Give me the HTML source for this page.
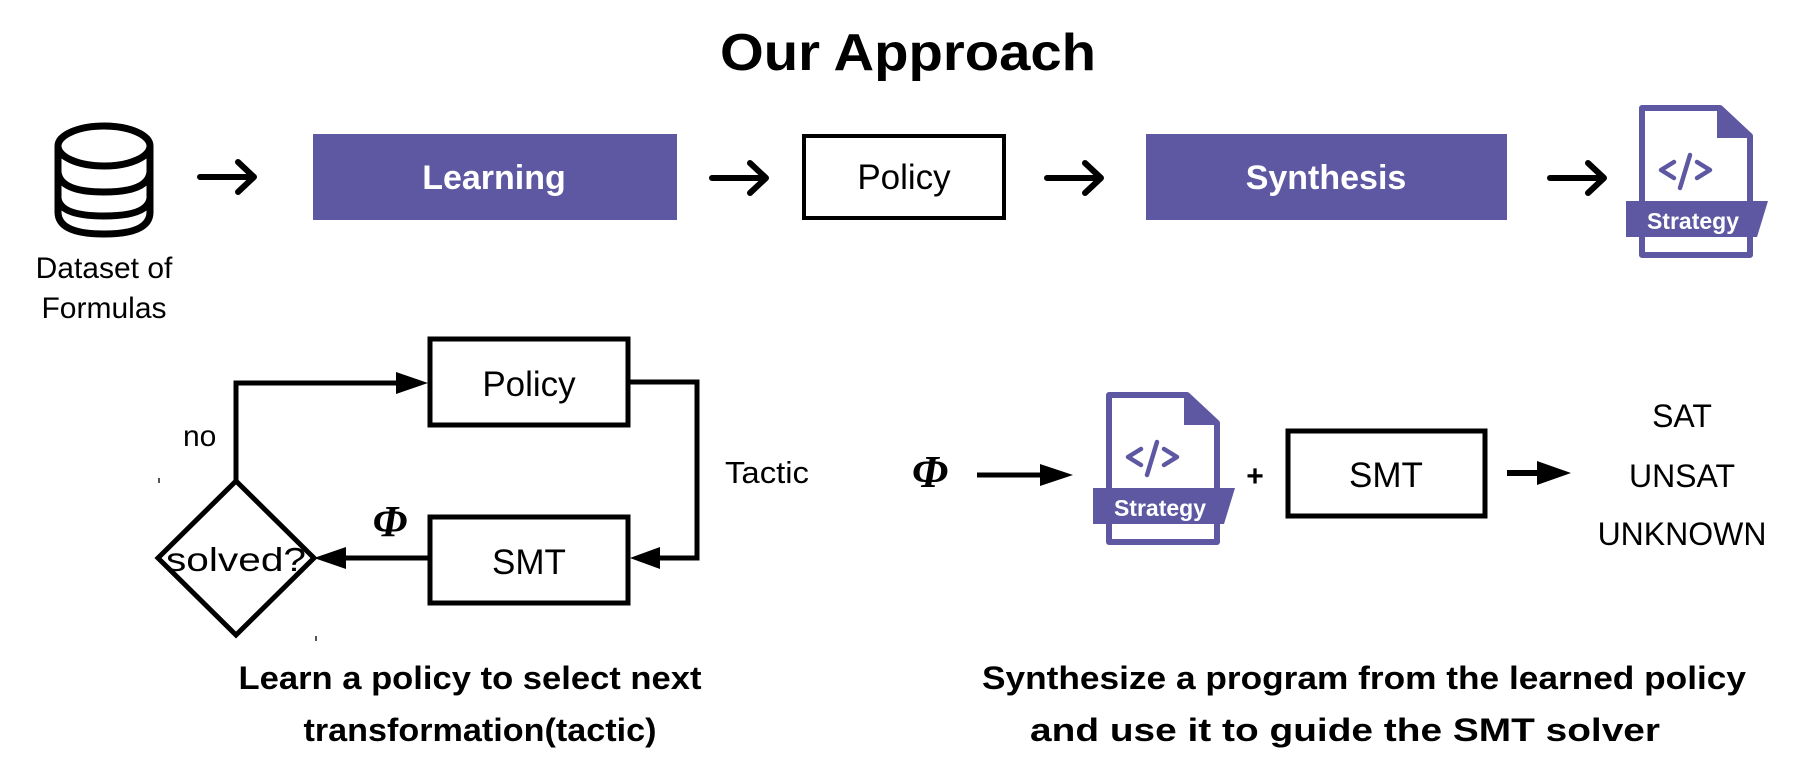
<!DOCTYPE html>
<html><head><meta charset="utf-8"><style>
html,body{margin:0;padding:0;background:#fff;}
svg{display:block;font-family:"Liberation Sans",sans-serif;}
</style></head><body>
<svg width="1793" height="783" viewBox="0 0 1793 783" xmlns="http://www.w3.org/2000/svg">
<defs>
<g id="strat">
  <path d="M1642,108 L1720,108 L1750,136 L1750,255 L1642,255 Z" fill="#fff" stroke="#5e58a2" stroke-width="6" stroke-linejoin="round"/>
  <path d="M1717,108 L1750,138 L1717,138 Z" fill="#5e58a2"/>
  <path d="M1674,162 L1661,170 L1674,178 M1690,155 L1680,188 M1697,162 L1710,170 L1697,178" fill="none" stroke="#5e58a2" stroke-width="4.5" stroke-linecap="round" stroke-linejoin="round"/>
  <path d="M1626,201 L1768,201 L1757,237 L1626,237 Z" fill="#5e58a2"/>
  <text x="1693" y="229" font-size="23" font-weight="bold" fill="#fff" text-anchor="middle">Strategy</text>
</g>
</defs>

<text x="908" y="70" font-size="52" font-weight="bold" text-anchor="middle" fill="#000" textLength="376" lengthAdjust="spacingAndGlyphs">Our Approach</text>

<g fill="none" stroke="#000" stroke-width="7">
  <ellipse cx="104" cy="146" rx="46" ry="20"/>
  <path d="M58,146 L58,212 Q58,234 104,234 Q150,234 150,212 L150,146"/>
  <path d="M58,172 Q60,192 104,192 Q148,192 150,172"/>
  <path d="M58,198 Q60,216 104,216 Q148,216 150,198"/>
</g>
<text x="104" y="278" font-size="30" text-anchor="middle">Dataset of</text>
<text x="104" y="318" font-size="30" text-anchor="middle">Formulas</text>

<g fill="none" stroke="#000" stroke-width="6" stroke-linecap="round" stroke-linejoin="round">
  <path d="M200,177 L252,177 M238,162 L254,177 L238,192"/>
  <path d="M712,178 L764,178 M750,163 L766,178 L750,193"/>
  <path d="M1047,178 L1099,178 M1085,163 L1101,178 L1085,193"/>
  <path d="M1550,178 L1602,178 M1588,163 L1604,178 L1588,193"/>
</g>

<rect x="313" y="134" width="364" height="86" fill="#5e58a2"/>
<text x="494" y="189" font-size="34" font-weight="bold" fill="#fff" text-anchor="middle">Learning</text>
<rect x="804" y="136" width="200" height="82" fill="#fff" stroke="#000" stroke-width="4"/>
<text x="904" y="189" font-size="35" text-anchor="middle">Policy</text>
<rect x="1146" y="134" width="361" height="86" fill="#5e58a2"/>
<text x="1326" y="189" font-size="34" font-weight="bold" fill="#fff" text-anchor="middle">Synthesis</text>

<use href="#strat"/>

<rect x="430" y="339" width="198" height="86" fill="#fff" stroke="#000" stroke-width="5"/>
<text x="529" y="396" font-size="35" text-anchor="middle">Policy</text>
<rect x="430" y="517" width="198" height="86" fill="#fff" stroke="#000" stroke-width="5"/>
<text x="529" y="574" font-size="35" text-anchor="middle">SMT</text>
<polygon points="236,481 314,558 236,635 158,558" fill="#fff" stroke="#000" stroke-width="5"/>
<text x="236" y="571" font-size="33" text-anchor="middle" textLength="140" lengthAdjust="spacingAndGlyphs">solved?</text>
<g fill="none" stroke="#000" stroke-width="5">
  <path d="M236,481 L236,383 L400,383"/>
  <path d="M628,382 L697,382 L697,558 L660,558"/>
  <path d="M430,558 L344,558"/>
</g>
<polygon points="428,383 396,372 396,394" fill="#000"/>
<polygon points="630,558 660,547 660,569" fill="#000"/>
<polygon points="314,558 346,547 346,569" fill="#000"/>
<text x="183" y="446" font-size="30">no</text>
<text x="725" y="483" font-size="31" textLength="84" lengthAdjust="spacingAndGlyphs">Tactic</text>
<text x="390" y="536" font-size="44" font-style="italic" font-family="Liberation Serif,serif" text-anchor="middle" font-weight="bold">Φ</text>
<rect x="158" y="478" width="2" height="5" fill="#555"/>
<rect x="315" y="636" width="2" height="5" fill="#555"/>

<text x="930" y="487" font-size="46" font-style="italic" font-family="Liberation Serif,serif" text-anchor="middle" font-weight="bold">Φ</text>
<path d="M977,475 L1045,475" stroke="#000" stroke-width="5"/>
<polygon points="1073,475 1040,464 1040,486" fill="#000"/>
<use href="#strat" transform="translate(-533,287)"/>
<text x="1255" y="486" font-size="30" font-weight="bold" text-anchor="middle">+</text>
<rect x="1288" y="431" width="197" height="85" fill="#fff" stroke="#000" stroke-width="5"/>
<text x="1386" y="487" font-size="35" text-anchor="middle">SMT</text>
<path d="M1507,473 L1540,473" stroke="#000" stroke-width="6"/>
<polygon points="1571,473 1537,461 1537,485" fill="#000"/>
<text x="1682" y="427" font-size="32" text-anchor="middle">SAT</text>
<text x="1682" y="487" font-size="32" text-anchor="middle">UNSAT</text>
<text x="1682" y="545" font-size="32" text-anchor="middle">UNKNOWN</text>

<g font-size="32" font-weight="bold" text-anchor="middle">
<text x="470" y="689" textLength="463" lengthAdjust="spacingAndGlyphs">Learn a policy to select next</text>
<text x="480" y="741" textLength="353" lengthAdjust="spacingAndGlyphs">transformation(tactic)</text>
<text x="1364" y="689" textLength="764" lengthAdjust="spacingAndGlyphs">Synthesize a program from the learned policy</text>
<text x="1345" y="741" textLength="630" lengthAdjust="spacingAndGlyphs">and use it to guide the SMT solver</text>
</g>
</svg>
</body></html>
